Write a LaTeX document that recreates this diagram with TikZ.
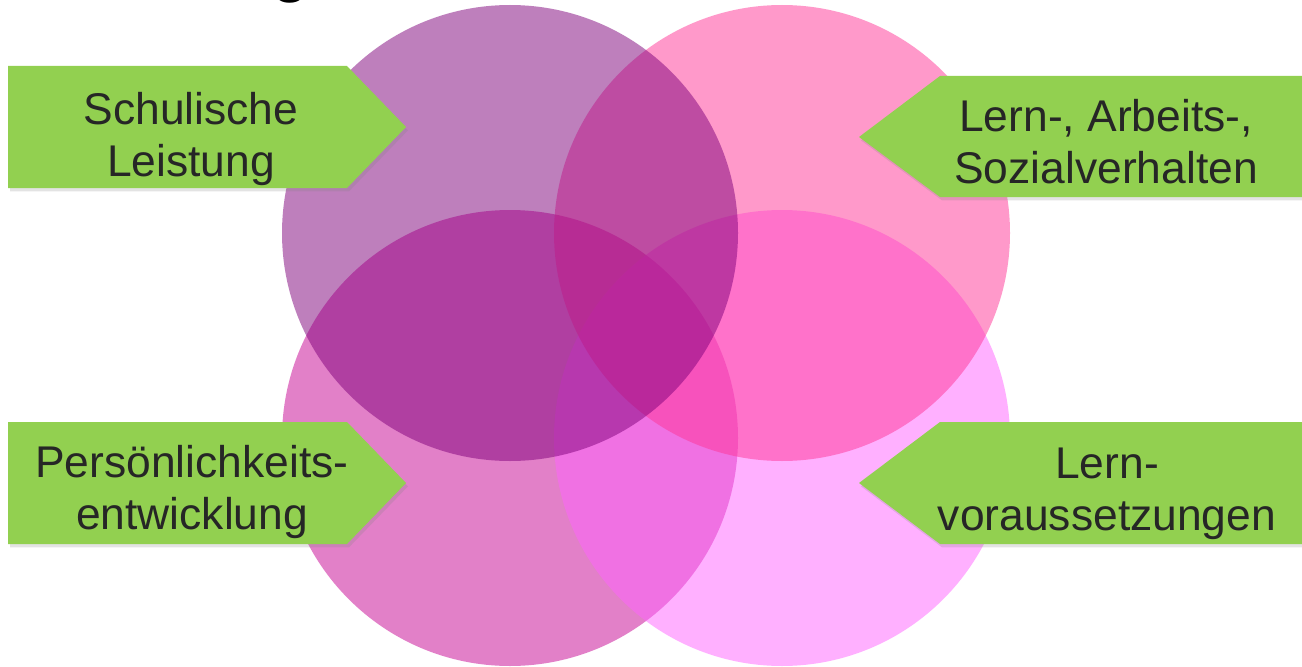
\documentclass[tikz,border=0pt]{standalone}
\usepackage{fontspec}
\setmainfont{Liberation Sans}
\usepackage{tikz}
\usetikzlibrary{shadows}

\definecolor{tagGreen}{RGB}{146,208,80}
\definecolor{tagInk}{RGB}{38,38,38}
\definecolor{ringTL}{RGB}{127,0,123}
\definecolor{ringTR}{RGB}{255,53,151}
\definecolor{ringBL}{RGB}{199,3,147}
\definecolor{ringBR}{RGB}{255,99,255}

\begin{document}
\begin{tikzpicture}[x=0.75pt,y=0.75pt,yscale=-1,xscale=1,
  venn/.style={fill opacity=0.5},
  arrowtag/.style={fill=tagGreen,drop shadow={shadow xshift=1.5pt,shadow yshift=-2.5pt,opacity=0.22}},
  tagtext/.style={text=tagInk,align=center,anchor=base,inner sep=0pt,font=\fontsize{33.3}{38.5}\selectfont}]
%set diagram left start at 0, and has height of 667
\useasboundingbox[fill=white] (0,0) rectangle (1302,667);

% Cut-off title
\node (title) [anchor=base west,inner sep=0pt,font=\fontsize{45}{54}\selectfont\bfseries] at (272,-9.6) {g};

%Circles
\fill [ringBL,venn] (510,438) circle (228);
\fill [ringBR,venn] (782,438) circle (228);
\fill [ringTR,venn] (782,233) circle (228);
\fill [ringTL,venn] (510,233) circle (228);

%Shape: Pentagon (left, top)
\fill [arrowtag] (8,66) -- (347,66) -- (406,127) -- (347,188) -- (8,188) -- cycle ;
%Shape: Pentagon (right, top)
\fill [arrowtag] (1312,76) -- (940,76) -- (859,137) -- (940,197) -- (1312,197) -- cycle ;
%Shape: Pentagon (left, bottom)
\fill [arrowtag] (8,422) -- (347,422) -- (406,483) -- (347,544) -- (8,544) -- cycle ;
%Shape: Pentagon (right, bottom)
\fill [arrowtag] (1312,422) -- (940,422) -- (859,483) -- (940,544) -- (1312,544) -- cycle ;

% Text Node (base = last line)
\node (leistung) [tagtext] at (191,176) {Schulische\\Leistung};
% Text Node
\node (verhalten) [tagtext] at (1106,183) {Lern-, Arbeits-,\\Sozialverhalten};
% Text Node
\node (entwicklung) [tagtext] at (192,529) {Persönlichkeits-\\entwicklung};
% Text Node
\node (voraussetzung) [tagtext] at (1107,530) {Lern-\\voraussetzungen};

\end{tikzpicture}
\end{document}
